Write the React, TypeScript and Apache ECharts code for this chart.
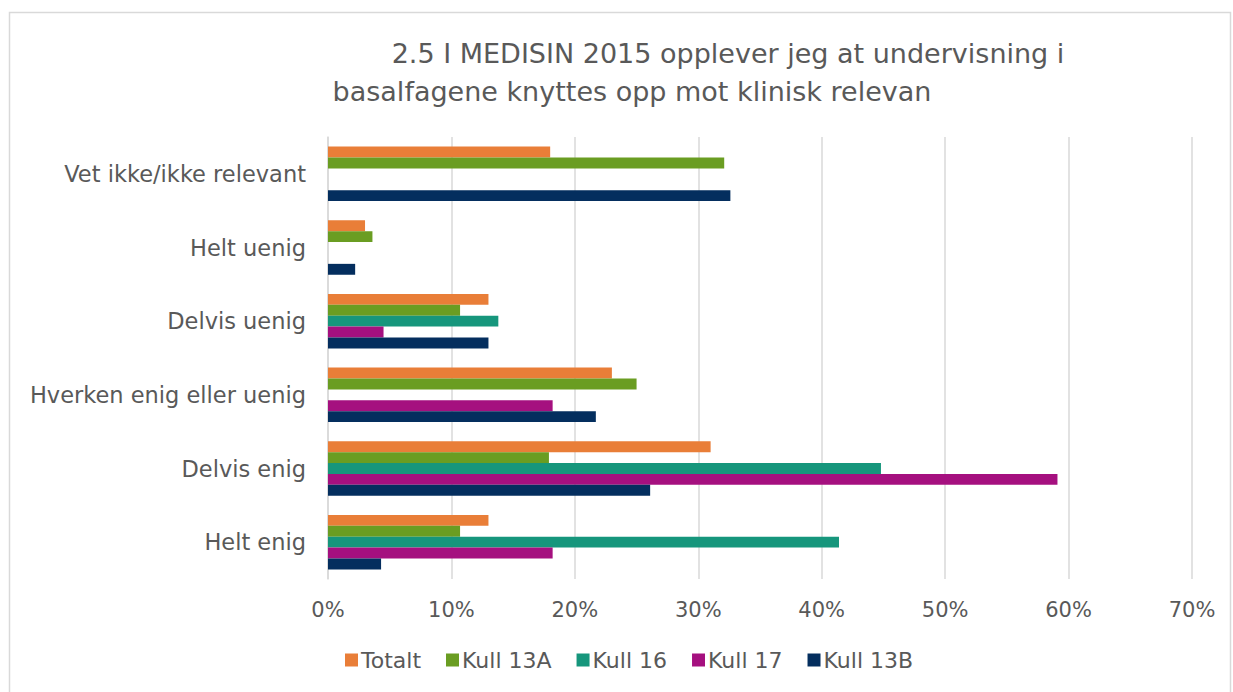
import React, { useEffect, useRef } from "react";
import * as echarts from "echarts";

const titleLine1 = "2.5 I MEDISIN 2015 opplever jeg at undervisning i";
const titleLine2 = "basalfagene knyttes opp mot klinisk relevan";

const categories = [
  "Vet ikke/ikke relevant",
  "Helt uenig",
  "Delvis uenig",
  "Hverken enig eller uenig",
  "Delvis enig",
  "Helt enig",
];

const seriesNames = ["Totalt", "Kull 13A", "Kull 16", "Kull 17", "Kull 13B"];
const seriesColors = ["#E97E38", "#6A9D22", "#16967C", "#A5107F", "#042E5E"];

const totalt = [18, 3, 13, 23, 31, 13];
const kull13A = [32.1, 3.6, 10.7, 25.0, 17.9, 10.7];
const kull16 = [0, 0, 13.8, 0, 44.8, 41.4];
const kull17 = [0, 0, 4.5, 18.2, 59.1, 18.2];
const kull13B = [32.6, 2.2, 13.0, 21.7, 26.1, 4.3];

const seriesValues = [totalt, kull13A, kull16, kull17, kull13B];

const xTicks = [0, 10, 20, 30, 40, 50, 60, 70];

const FONT = "DejaVu Sans";
const TEXT_COLOR = "#595959";

export default function App() {
  const ref = useRef<HTMLDivElement>(null);
  useEffect(() => {
    if (!ref.current) return;
    const chart = echarts.init(ref.current, undefined, { renderer: "svg" });
    chart.setOption({
      animation: false,
      backgroundColor: "#ffffff",
      title: [
        {
          text: titleLine1,
          left: 723,
          top: 35,
          textAlign: "center",
          textStyle: { fontFamily: FONT, fontSize: 27, fontWeight: "normal", color: TEXT_COLOR },
        },
        {
          text: titleLine2,
          left: 627,
          top: 73,
          textAlign: "center",
          textStyle: { fontFamily: FONT, fontSize: 27, fontWeight: "normal", color: TEXT_COLOR },
        },
      ],
      graphic: [
        {
          type: "rect",
          shape: { x: 9.5, y: 12.5, width: 1221, height: 700 },
          style: { fill: "none", stroke: "#d9d9d9", lineWidth: 1.5 },
          silent: true,
        },
      ],
      legend: {
        data: seriesNames,
        bottom: 16,
        left: 340,
        itemWidth: 13,
        itemHeight: 13,
        itemGap: 25,
        icon: "rect",
        textStyle: { fontFamily: FONT, fontSize: 22, color: TEXT_COLOR, padding: [0, 0, 0, -2] },
      },
      grid: { left: 328, right: 41, top: 137, bottom: 113, containLabel: false },
      xAxis: {
        type: "value",
        min: xTicks[0],
        max: xTicks[xTicks.length - 1],
        interval: 10,
        axisLabel: {
          formatter: "{value}%",
          fontFamily: FONT,
          fontSize: 21,
          color: TEXT_COLOR,
          margin: 20,
        },
        axisLine: { show: false },
        axisTick: { show: false },
        splitLine: { show: true, lineStyle: { color: "#d9d9d9", width: 1.5 } },
      },
      yAxis: {
        type: "category",
        data: categories,
        inverse: true,
        axisLabel: {
          fontFamily: FONT,
          fontSize: 22.5,
          color: TEXT_COLOR,
          margin: 22,
        },
        axisLine: { show: true, lineStyle: { color: "#d9d9d9", width: 1.5 } },
        axisTick: { show: false },
      },
      series: seriesNames.map((name, i) => ({
        name,
        type: "bar",
        data: seriesValues[i],
        itemStyle: { color: seriesColors[i] },
        barGap: "0%",
        barCategoryGap: "26%",
      })),
    });
    return () => chart.dispose();
  }, []);
  return (
    <div
      ref={ref}
      style={{ position: "fixed", left: 0, top: 0, width: 1233, height: 692 }}
    />
  );
}
